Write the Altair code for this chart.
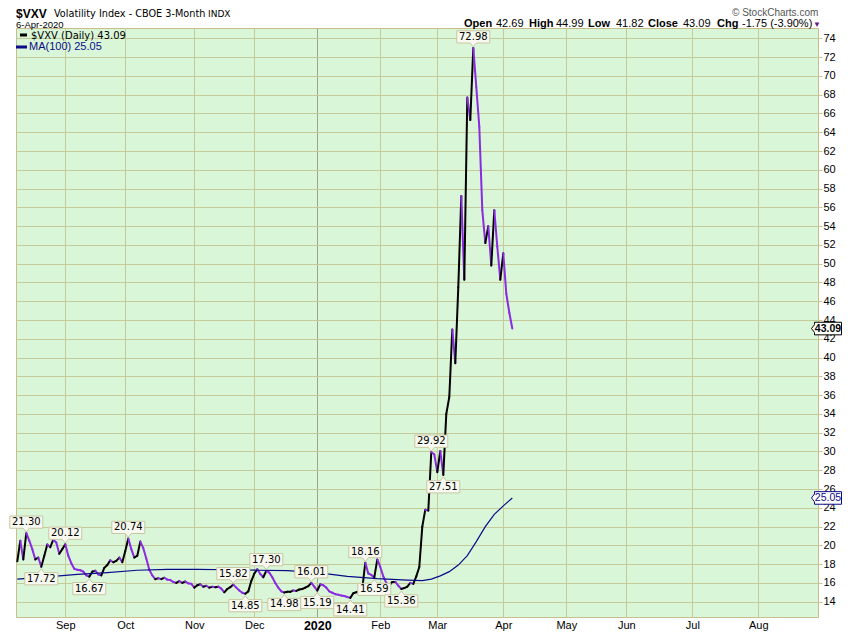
import altair as alt
import pandas as pd

# ---------------- data ----------------
# trading-day index 0 = 9-Aug-2019 ... 165 = 6-Apr-2020
vxv = [18.3, 20.5, 18.5, 21.30, 20.5, 19.6, 18.5, 18.7, 17.72, 18.9,
       20.1, 19.8, 20.6, 20.3, 19.1, 19.6, 20.12, 18.9, 18.1, 17.5,
       17.4, 17.35, 17.2, 16.8, 16.67, 17.2, 17.3, 16.9, 16.8, 17.6,
       17.9, 18.4, 18.2, 18.35, 18.7, 18.2, 19.4, 20.74, 19.6, 18.7,
       18.9, 20.4, 19.7, 18.6, 17.4, 16.8, 16.4, 16.5, 16.4, 16.55,
       16.35, 16.3, 16.1, 16.0, 16.2, 16.0, 16.15, 15.95, 15.9, 15.5,
       15.75, 15.85, 15.6, 15.7, 15.5, 15.6, 15.55, 15.6, 15.4, 15.0,
       15.35, 15.55, 15.82, 15.5, 15.2, 14.95, 14.85, 15.1, 16.2, 17.0,
       17.45, 16.95, 16.6, 17.30, 17.1, 16.6, 16.0, 15.5, 15.1, 14.98,
       15.05, 15.05, 15.2, 15.15, 15.3, 15.35, 15.5, 15.65, 16.01, 15.6,
       15.19, 15.85, 15.75, 15.5, 15.1, 14.95, 14.8, 14.75, 14.65, 14.6,
       14.5, 14.41, 14.9, 15.0, 15.1, 15.4, 18.16, 17.0, 16.85, 16.59,
       18.5, 17.7, 16.7, 16.0, 15.7, 16.1, 16.1, 15.7, 15.36, 15.45,
       15.6, 16.0, 15.9, 16.7, 17.7, 22.0, 23.8, 23.7, 29.92, 29.7,
       27.8, 30.05, 27.51, 34.0, 35.8, 43.0, 39.4, 47.5, 57.2, 48.3,
       67.7, 65.3, 72.98, 68.8, 64.6, 55.7, 52.2, 54.0, 49.8, 55.7,
       51.8, 48.3, 51.1, 46.8, 44.8, 43.09]

ma_idx = [0, 10, 20, 30, 40, 50, 60, 70, 80, 90, 100, 110, 120, 130, 135,
          138, 141, 144, 147, 150, 153, 156, 159, 162, 165]
ma_val = [16.4, 16.65, 16.9, 17.1, 17.35, 17.45, 17.45, 17.4, 17.35, 17.3,
          17.1, 16.7, 16.45, 16.3, 16.25, 16.4, 16.75, 17.2, 17.9, 18.9,
          20.4, 22.0, 23.3, 24.2, 25.05]

month_idx = [16, 36, 59, 79, 100, 121, 140, 162, 183, 203, 225, 247]
month_lbl = ["Sep", "Oct", "Nov", "Dec", "2020", "Feb", "Mar", "Apr",
             "May", "Jun", "Jul", "Aug"]
y_ticks = list(range(14, 76, 2))

lab_idx = [3, 8, 16, 24, 37, 72, 76, 83, 89, 98, 100, 111, 116, 119, 128,
           138, 142, 152]
lab_txt = ["21.30", "17.72", "20.12", "16.67", "20.74", "15.82", "14.85",
           "17.30", "14.98", "16.01", "15.19", "14.41", "18.16", "16.59",
           "15.36", "29.92", "27.51", "72.98"]
lab_kind = ["high", "low", "high", "low", "high", "high", "low", "high",
            "low", "high", "low", "low", "high", "low", "low", "high",
            "low", "high"]

last_close = 43.09
last_ma = 25.05

# ---------------- tables ----------------
seg = pd.DataFrame({
    "i": list(range(len(vxv) - 1)),
    "i2": list(range(1, len(vxv))),
    "v": vxv[:-1],
    "v2": vxv[1:],
})
seg["dir"] = ["up" if b >= a else "down" for a, b in zip(seg["v"], seg["v2"])]
ma = pd.DataFrame({"i": ma_idx, "v": ma_val})
labs = pd.DataFrame({"i": lab_idx, "t": lab_txt, "kind": lab_kind,
                     "v": [vxv[k] for k in lab_idx]})
tags = pd.DataFrame({"v": [last_close, last_ma], "t": ["43.09", "25.05"]})
one = pd.DataFrame({"k": [0]})

xs = alt.Scale(domain=[-0.43, 266.9], nice=False, zero=False)
ys = alt.Scale(domain=[12.37, 75.1], nice=False, zero=False)

GRID = "#C6CA98"
FONT = "Liberation Sans"
VFONT = "DejaVu Sans"

label_expr = " : ".join(
    f"datum.value == {k} ? '{s}'" for k, s in zip(month_idx, month_lbl)) + " : ''"

xaxis = alt.Axis(
    values=month_idx, tickCount=50, labelExpr=label_expr, grid=True,
    gridColor={"condition": {"test": "datum.value == 100", "value": "#9EA28A"}, "value": GRID},
    ticks=False, domain=False, labelFont=FONT, labelColor="#000000",
    labelFontSize={"condition": {"test": "datum.value == 100", "value": 12.5}, "value": 11},
    labelFontWeight={"condition": {"test": "datum.value == 100", "value": "bold"}, "value": "normal"},
    labelPadding=2, labelOverlap=False, title=None)
yaxis = alt.Axis(
    orient="right", values=y_ticks, tickCount=50, grid=True, gridColor=GRID,
    tickColor=GRID, tickSize=4, labelPadding=1, labelFont=FONT, labelFontSize=11,
    labelOverlap=False, labelBound=False, labelFlush=False,
    labelColor="#000000", domain=False, title=None)

# price line: black when rising, purple when falling
price = alt.Chart(seg).mark_rule(strokeWidth=2, strokeCap="round").encode(
    x=alt.X("i:Q", scale=xs, axis=xaxis),
    x2="i2:Q",
    y=alt.Y("v:Q", scale=ys, axis=yaxis),
    y2="v2:Q",
    color=alt.Color("dir:N", scale=alt.Scale(domain=["up", "down"],
                                             range=["#000000", "#8A2BE2"]),
                    legend=None),
)

ma_line = alt.Chart(ma).mark_line(color="#0B0B8A", strokeWidth=1.2).encode(
    x=alt.X("i:Q", scale=xs), y=alt.Y("v:Q", scale=ys))

HIGH_BOX = "M-0.97,-0.36H0.97V0.36H0.18L0,0.58L-0.18,0.36H-0.97Z"
LOW_BOX = "M-0.97,-0.36H-0.18L0,-0.58L0.18,-0.36H0.97V0.36H-0.97Z"


def price_labels(kind, shape, off):
    d = alt.Chart(labs).transform_filter(alt.datum.kind == kind)
    box = d.mark_point(shape=shape, size=34 * 34, filled=True, fill="#F7F9F0",
                       stroke="#C9C6A2", strokeWidth=1, opacity=1,
                       yOffset=off).encode(
        x=alt.X("i:Q", scale=xs), y=alt.Y("v:Q", scale=ys))
    txt = d.mark_text(font=VFONT, fontSize=10, color="#000000",
                      baseline="middle", dy=off).encode(
        x=alt.X("i:Q", scale=xs), y=alt.Y("v:Q", scale=ys),
        text="t:N")
    return [box, txt]


TAG = "M-1.1,0L-0.9,-0.26V-0.42H0.9V0.42H-0.9V0.26Z"


def tag(row, color, weight):
    d = alt.Chart(tags).transform_filter(alt.datum.t == row)
    box = d.mark_point(shape=TAG, size=30 * 30, filled=True, fill="#FFFFFF",
                       stroke=color, strokeWidth=1, opacity=1).encode(
        x=alt.value(812), y=alt.Y("v:Q", scale=ys))
    txt = d.mark_text(font=FONT, fontSize=10.5, fontWeight=weight, color=color,
                      baseline="middle").encode(
        x=alt.value(812), y=alt.Y("v:Q", scale=ys), text="t:N")
    return [box, txt]


def txt(s, x, y, size=11, weight="normal", color="#000000", font=FONT):
    return alt.Chart(one).mark_text(text=s, align="left", baseline="alphabetic",
                                    font=font, fontSize=size, fontWeight=weight,
                                    color=color).encode(x=alt.value(x), y=alt.value(y))


def dash(x1, x2, y, color):
    return alt.Chart(one).mark_rule(color=color, strokeWidth=3).encode(
        x=alt.value(x1), x2=alt.value(x2), y=alt.value(y))


header = [
    txt("$VXV", 0, -10.5, size=12, weight="bold"),
    txt("Volatility Index - CBOE 3-Month", 38, -11, size=9.7, font=VFONT),
    txt("INDX", 192, -11, size=9, font=VFONT),
    txt("6-Apr-2020", 0, 0, size=9.5),
    txt("\u00a9 StockCharts.com", 716, -12.5, size=10, color="#555555"),
    txt("Open", 448, -1, weight="bold"),
    txt("42.69", 480, -1),
    txt("High", 513, -1, weight="bold"),
    txt("44.99", 540, -1),
    txt("Low", 572, -1, weight="bold"),
    txt("41.82", 600, -1),
    txt("Close", 632, -1, weight="bold"),
    txt("43.09", 667, -1),
    txt("Chg", 701, -1, weight="bold"),
    txt("-1.75 (-3.90%)", 726, -1),
    txt("\u25bc", 797, -1, size=8, color="#6A1B7A"),
]

legend = [
    dash(4, 11, 7, "#000000"),
    txt("$VXV (Daily) 43.09", 15, 10.5, size=10, font=VFONT),
    dash(0, 11, 19, "#0B0B8A"),
    txt("MA(100) 25.05", 13, 22, size=11, color="#0B0B8A"),
]

layers = ([price, ma_line] + price_labels("high", HIGH_BOX, -11)
          + price_labels("low", LOW_BOX, 12)
          + tag("43.09", "#000000", "bold") + tag("25.05", "#0B0B8A", "normal")
          + header + legend)

chart = alt.layer(*layers).properties(
    width=802, height=589,
    autosize=alt.AutoSizeParams(type="none"),
    padding={"left": 8, "top": 20, "right": 24, "bottom": 16},
    background="#FFFFFF",
).configure_view(fill="#DAF6D8", stroke="#C8BE8C", strokeWidth=1)

chart.save("out.html", embed_options={"renderer": "svg", "actions": False})
